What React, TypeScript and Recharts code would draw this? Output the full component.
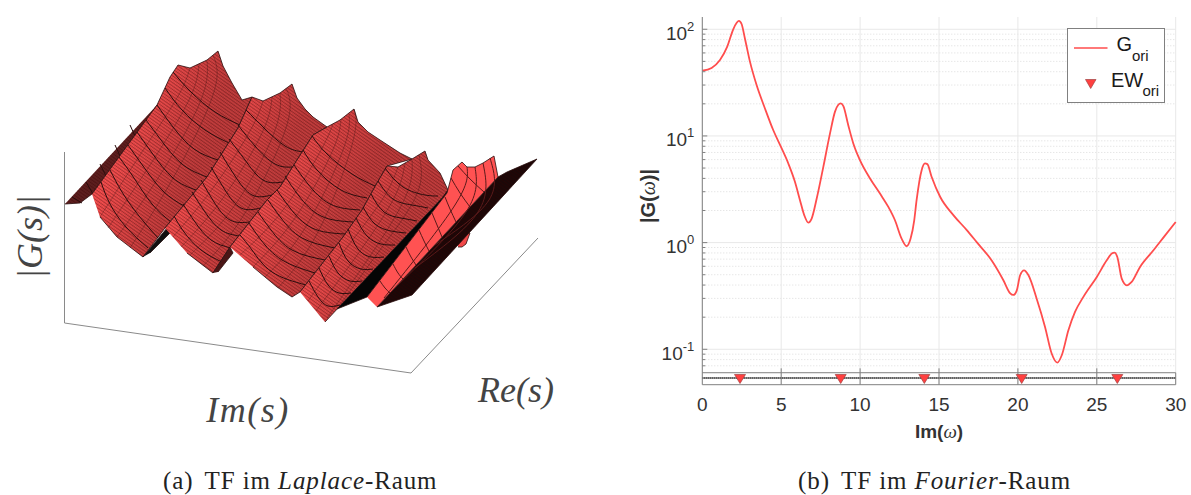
import React from 'react';
import {
  ComposedChart, Line, Scatter, ScatterChart, XAxis, YAxis, CartesianGrid, ReferenceLine,
} from 'recharts';

// right plot: |G(w)| over Im(w)
const omega = [0, 0.59, 1.12, 1.58, 1.96, 2.18, 2.32, 2.49, 2.7, 3.02, 3.44, 3.97, 4.5, 5, 5.45, 5.87, 6.19, 6.46, 6.72, 6.93, 7.25, 7.67, 8.09, 8.41, 8.62, 8.77, 8.94, 9.25, 9.57, 9.99, 10.63, 11.26, 11.79, 12.21, 12.63, 12.95, 13.2, 13.43, 13.58, 13.9, 14.11, 14.26, 14.53, 15.07, 15.91, 16.76, 17.39, 18.34, 19.08, 19.5, 19.71, 19.93, 20.14, 20.39, 20.67, 21.19, 21.72, 22.14, 22.5, 22.78, 23.2, 23.62, 24.15, 25, 25.63, 25.95, 26.12, 26.3, 26.58, 26.9, 27.21, 27.74, 28.59, 29.33, 30];
const magnitude = [40.9, 43.4, 51.5, 68.7, 100, 115, 120, 112, 82, 49.7, 30, 18.1, 11.3, 7.8, 5.52, 3.72, 2.5, 1.81, 1.54, 1.68, 2.59, 5.13, 10.5, 16.9, 19.6, 20.2, 19, 12.6, 8.5, 5.93, 3.99, 2.88, 2.16, 1.62, 1.09, 0.925, 1.09, 1.62, 2.5, 4.78, 5.52, 5.44, 4.14, 2.69, 1.81, 1.31, 1.01, 0.68, 0.444, 0.337, 0.323, 0.357, 0.494, 0.55, 0.494, 0.298, 0.162, 0.0912, 0.075, 0.088, 0.151, 0.224, 0.31, 0.477, 0.682, 0.789, 0.805, 0.734, 0.459, 0.398, 0.428, 0.592, 0.847, 1.17, 1.56];
const eigenOmega = [2.39, 8.77, 14.07, 20.24, 26.3];
const stripLevel = 0.0538;
const stripTop = 0.0603;
const stripBottom = 0.04656;
const tickTop = 0.0663;
const xTicks = [0, 5, 10, 15, 20, 25, 30];
const yMajor = [0.1, 1, 10, 100];
const yMinor = [0.07, 0.08, 0.09, 0.2, 0.3, 0.4, 0.5, 0.6, 0.7, 0.8, 0.9, 2, 3, 4, 5, 6, 7, 8, 9, 20, 30, 40, 50, 60, 70, 80, 90];
const yExponent: Record<number, string> = { 0.1: '-1', 1: '0', 10: '1', 100: '2' };

const curve = omega.map((w, i) => ({ w, g: magnitude[i] }));
const eigenPoints = eigenOmega.map((w) => ({ w, g: stripLevel }));

// left plot: projected surface, outlines
type P = [number, number];
const boxLine: P[] = [[64.5, 152], [64.5, 323], [411, 373], [538, 238]];

const backA: P[] = [[65, 204], [80, 203], [92, 194], [158, 104]];
const faceA: P[] = [[92, 194], [157, 105], [170, 77], [178, 65], [190, 68], [207, 60], [218, 51], [223, 66], [232, 83], [242, 100], [252, 97], [238, 128], [207, 177], [165, 228], [143, 257], [117, 237], [100, 217]];
const shadowA: P[] = [[143, 257], [167, 228], [170, 233], [150, 253]];
const faceB: P[] = [[165, 228], [207, 177], [238, 128], [252, 97], [263, 101], [280, 93], [292, 84], [297, 98], [305, 109], [313, 117], [327, 127], [313, 135], [297, 160], [280, 187], [267, 200], [230, 247], [213, 273], [187, 253]];
const shadowB: P[] = [[213, 273], [230, 247], [233, 253], [218, 272]];
const faceC: P[] = [[230, 247], [267, 200], [280, 187], [297, 160], [313, 135], [327, 127], [340, 120], [354, 109], [358, 122], [368, 132], [380, 140], [400, 153], [412, 159], [387, 166], [377, 183], [362, 210], [343, 237], [300, 292], [292, 297], [277, 287], [253, 267]];
const faceD: P[] = [[300, 292], [343, 237], [362, 210], [377, 183], [387, 166], [398, 167], [412, 159], [425, 151], [428, 160], [440, 173], [448, 190], [443, 197], [340, 306], [325, 322]];
const blackBand: P[] = [[443, 197], [448, 190], [447, 193], [367, 297], [337, 309]];
const flapE: P[] = [[458, 247], [462, 247], [466, 244], [470, 233], [458, 232]];
const backE: P[] = [[377, 307], [412, 295], [537, 159], [507, 172], [498, 177]];
const faceE: P[] = [[367, 297], [447, 193], [453, 170], [462, 162], [467, 167], [475, 167], [483, 163], [494, 156], [498, 177], [377, 307]];

const meshA: P[][] = [
  [[101, 182], [110, 204], [126, 227], [148, 248]],
  [[110, 170], [122, 192], [139, 216], [158, 238]],
  [[119, 157], [134, 178], [152, 204], [171, 222]],
  [[128, 145], [143, 166], [163, 191], [184, 206]],
  [[137, 132], [152, 153], [173, 178], [196, 190]],
  [[146, 120], [161, 140], [182, 164], [207, 177]],
  [[157, 105], [173, 127], [194, 149], [218, 160]],
  [[165, 88], [182, 110], [205, 130], [229, 143]],
  [[173, 72], [191, 92], [215, 112], [240, 125]],
];
const meshB: P[][] = [
  [[174, 216], [184, 232], [201, 250], [222, 262]],
  [[183, 204], [195, 222], [211, 240], [231, 248]],
  [[192, 192], [205, 212], [221, 230], [240, 236]],
  [[201, 180], [214, 202], [230, 220], [250, 222]],
  [[211, 167], [225, 190], [241, 208], [261, 208]],
  [[220, 152], [235, 176], [252, 195], [272, 195]],
  [[229, 139], [245, 160], [263, 180], [283, 182]],
  [[238, 125], [255, 146], [275, 164], [293, 167]],
  [[246, 110], [264, 128], [285, 146], [303, 152]],
];
const meshC: P[][] = [
  [[240, 235], [252, 250], [272, 272], [306, 285]],
  [[249, 223], [261, 240], [282, 260], [315, 273]],
  [[258, 212], [271, 230], [292, 250], [325, 260]],
  [[268, 200], [281, 218], [302, 238], [335, 248]],
  [[277, 190], [290, 208], [312, 228], [345, 234]],
  [[285, 176], [299, 196], [321, 216], [353, 222]],
  [[294, 165], [308, 184], [330, 204], [360, 210]],
  [[303, 150], [317, 170], [341, 190], [367, 198]],
  [[312, 136], [327, 154], [352, 174], [375, 186]],
];
const meshD: P[][] = [
  [[309, 281], [318, 297], [328, 306], [340, 305]],
  [[319, 268], [328, 285], [339, 293], [351, 293]],
  [[329, 256], [338, 273], [350, 281], [362, 281]],
  [[339, 243], [348, 261], [361, 269], [373, 269]],
  [[348, 229], [358, 249], [371, 257], [384, 257]],
  [[356, 218], [367, 236], [381, 244], [395, 245]],
  [[363, 207], [375, 224], [391, 231], [406, 233]],
  [[371, 194], [384, 212], [401, 218], [417, 221]],
  [[378, 181], [393, 199], [412, 205], [428, 208]],
  [[385, 168], [403, 187], [425, 195], [438, 196]],
];
const meshE: P[][] = [
  [[380, 281], [385, 288], [390, 293]],
  [[393, 264], [398, 273], [403, 279]],
  [[406, 247], [411, 257], [416, 265]],
  [[419, 230], [424, 241], [429, 251]],
  [[432, 213], [437, 225], [442, 237]],
  [[445, 197], [450, 209], [456, 222]],
  [[451, 178], [460, 193], [470, 207]],
  [[458, 166], [470, 179], [484, 192]],
  [[467, 167], [455, 205], [384, 298]],
  [[475, 167], [466, 212], [398, 285]],
  [[483, 163], [478, 212], [415, 268]],
  [[490, 158], [489, 200], [435, 245]],
];
// faint lines running with the ridges
const ribsA: P[][] = [
  [[190, 68], [177, 98], [140, 155], [100, 217]],
  [[199, 64], [189, 100], [150, 165], [108, 228]],
  [[207, 60], [201, 100], [162, 172], [117, 237]],
  [[213, 55], [213, 95], [172, 180], [130, 248]],
];
const ribsB: P[][] = [
  [[263, 101], [250, 131], [213, 188], [173, 237]],
  [[272, 97], [262, 133], [223, 198], [181, 247]],
  [[280, 93], [274, 133], [235, 205], [190, 255]],
  [[286, 88], [286, 128], [245, 213], [203, 266]],
];
const ribsC: P[][] = [
  [[333, 124], [320, 152], [283, 210], [240, 255]],
  [[341, 119], [332, 152], [295, 218], [253, 267]],
  [[349, 114], [343, 150], [305, 228], [265, 277]],
  [[354, 109], [352, 145], [318, 232], [278, 288]],
];
const ribsD: P[][] = [
  [[398, 167], [382, 200], [345, 250], [308, 301]],
  [[405, 163], [393, 200], [355, 258], [316, 311]],
  [[412, 159], [405, 198], [366, 262], [327, 318]],
  [[419, 155], [417, 194], [380, 250], [340, 305]],
];
const meshBack: P[][] = [
  [[72, 197], [82, 203]], [[86, 182], [93, 194]], [[100, 164], [106, 176]], [[115, 145], [120, 156]], [[130, 125], [135, 136]],
];

const pts = (list: P[]) => list.map(([x, y]) => ({ x, y }));
const noDot = () => <g />;

const polygon = (key: string, list: P[], fill: string, hatch = true) => [
  <Scatter key={key} data={pts(list)} dataKey="y" shape={noDot} isAnimationActive={false}
    line={{ fill, stroke: '#2a1010', strokeWidth: 0.8 }} />,
  hatch ? (
    <Scatter key={key + 'h'} data={pts(list)} dataKey="y" shape={noDot} isAnimationActive={false}
      line={{ fill: 'url(#hatch)', stroke: 'none' }} />
  ) : null,
];

const mesh = (key: string, lines: P[][], stroke = '#2b0d0d', opacity = 1) =>
  lines.map((l, i) => (
    <Scatter key={key + i} data={pts(l)} dataKey="y" shape={noDot} isAnimationActive={false}
      lineJointType="natural" line={{ stroke, strokeWidth: 1, fill: 'none', strokeOpacity: opacity }} />
  ));

const serifMath = '"Liberation Serif", "DejaVu Serif", serif';
const sans = '"Liberation Sans", Arial, sans-serif';

const SurfacePlot = () => (
  <ScatterChart width={600} height={495} margin={{ top: 0, right: 0, bottom: 0, left: 0 }}>
    <defs>
      <pattern id="hatch" width="2.8" height="1.7" patternUnits="userSpaceOnUse" patternTransform="rotate(-55)">
        <path d="M0 0H2.8" stroke="#300" strokeWidth="0.5" strokeOpacity="0.35" />
        <path d="M0 0V1.7" stroke="#300" strokeWidth="1" strokeOpacity="0.6" />
      </pattern>
      <linearGradient id="shade" x1="0.1" y1="0" x2="0.75" y2="0.35">
        <stop offset="0%" stopColor="#ff5a5a" />
        <stop offset="40%" stopColor="#f85050" />
        <stop offset="75%" stopColor="#d84444" />
        <stop offset="100%" stopColor="#c43e3e" />
      </linearGradient>
    </defs>
    <XAxis type="number" dataKey="x" domain={[0, 600]} hide />
    <YAxis type="number" dataKey="y" domain={[0, 495]} reversed hide width={0} />
    <Scatter data={pts(boxLine)} dataKey="y" shape={noDot} isAnimationActive={false} line={{ stroke: '#8a8a8a', strokeWidth: 1, fill: 'none' }} />
    {polygon('backA', backA, '#5e2020')}
    {mesh('backm', meshBack)}
    {polygon('faceA', faceA, 'url(#shade)')}
    {mesh('rA', ribsA, '#2b0d0d', 0.3)}
    {mesh('mA', meshA)}
    {polygon('shadowA', shadowA, '#111', false)}
    {polygon('faceB', faceB, 'url(#shade)')}
    {mesh('rB', ribsB, '#2b0d0d', 0.3)}
    {mesh('mB', meshB)}
    {polygon('shadowB', shadowB, '#4a1616', false)}
    {polygon('faceC', faceC, 'url(#shade)')}
    {mesh('rC', ribsC, '#2b0d0d', 0.3)}
    {mesh('mC', meshC)}
    {polygon('faceD', faceD, 'url(#shade)')}
    {mesh('rD', ribsD, '#2b0d0d', 0.3)}
    {mesh('mD', meshD)}
    {polygon('band', blackBand, '#050505', false)}
    {polygon('flap', flapE, '#f04848', false)}
    {polygon('backE', backE, '#1a0808')}
    {polygon('faceE', faceE, '#ff5252', false)}
    {mesh('mE', meshE, '#5a1a1a')}
    <text x={30} y={237} transform="rotate(-90 30 237)" textAnchor="middle" dominantBaseline="central" fontFamily={serifMath} fontStyle="italic" fontSize={36} fill="#444">|G(s)|</text>
    <text x={248} y={422} textAnchor="middle" fontFamily={serifMath} fontStyle="italic" fontSize={36} letterSpacing={1.5} fill="#444">Im(s)</text>
    <text x={516} y={402} textAnchor="middle" fontFamily={serifMath} fontStyle="italic" fontSize={36} fill="#444">Re(s)</text>
  </ScatterChart>
);

const Triangle = (props: any) => {
  const { cx, cy } = props;
  return <path d={`M${cx - 5.5} ${cy - 3.5}H${cx + 5.5}L${cx} ${cy + 5.5}Z`} fill="#ff4040" stroke="#a04040" strokeWidth={0.7} />;
};

const YTick = (props: any) => {
  const { x, y, payload } = props;
  const major = yExponent[payload.value] !== undefined;
  return (
    <g>
      <line x1={x} x2={x + (major ? 5 : 3)} y1={y} y2={y} stroke="#808080" />
      {major && (
        <text x={x - 8} y={y + 10.5} textAnchor="end" fontFamily={sans} fontSize={19} fill="#333">
          10<tspan dy={-9} fontSize={13}>{yExponent[payload.value]}</tspan>
        </text>
      )}
    </g>
  );
};

const SpectrumPlot = () => (
  <ComposedChart width={1191} height={495} data={curve} margin={{ top: 17, right: 15.3, bottom: 80.3, left: 640 }}>
    <CartesianGrid horizontalValues={yMinor} vertical={false} stroke="#dcdcdc" strokeDasharray="1 2" />
    <CartesianGrid horizontalValues={yMajor} verticalValues={xTicks} stroke="#e8e8e8" />
    <XAxis type="number" dataKey="w" domain={[0, 30]} ticks={xTicks} interval={0} height={30} tickLine={false} tickSize={0} tickMargin={13}
      stroke="#808080" tick={{ fontFamily: sans, fontSize: 19, fill: '#333' }} />
    <YAxis scale="log" type="number" domain={[stripBottom, 130.3]} allowDataOverflow ticks={[...yMajor, ...yMinor]} interval={0} width={62.3}
      tickLine={false} tickSize={0} tickMargin={0} stroke="#808080" tick={<YTick />} />
    <ReferenceLine y={stripTop} stroke="#808080" />
    <ReferenceLine y={stripLevel} stroke="#222" strokeWidth={2} strokeDasharray="1.2 0.8" />
    {xTicks.slice(1).map((t) => (
      <ReferenceLine key={t} segment={[{ x: t, y: stripBottom }, { x: t, y: t === 30 ? stripTop : tickTop }]} stroke="#808080" />
    ))}
    <Line dataKey="g" type="monotone" dot={false} stroke="#ff4d4d" strokeWidth={1.8} isAnimationActive={false} />
    <Scatter data={eigenPoints} dataKey="g" shape={<Triangle />} isAnimationActive={false} />
    <g>
      <rect x={1067.5} y={28.5} width={97} height={74} fill="#fff" stroke="#808080" />
      <line x1={1074} x2={1107.5} y1={48} y2={48} stroke="#ff4d4d" strokeWidth={1.6} />
      <path d="M1085.5 79.5H1096L1090.7 88.5Z" fill="#ff4040" stroke="#a04040" strokeWidth={0.7} />
      <text x={1116.5} y={51} fontFamily={sans} fontSize={20} fill="#1a1a1a">G</text>
      <text x={1132} y={61} fontFamily={sans} fontSize={15} fill="#1a1a1a">ori</text>
      <text x={1111} y={87} fontFamily={sans} fontSize={20} fill="#1a1a1a">EW</text>
      <text x={1142.5} y={96} fontFamily={sans} fontSize={15} fill="#1a1a1a">ori</text>
    </g>
    <text x={655} y={196} transform="rotate(-90 655 196)" textAnchor="middle" fontFamily={sans} fontSize={20} fontWeight="bold" fill="#333">
      |G(<tspan fontFamily={serifMath} fontStyle="italic" fontWeight="normal">ω</tspan>)|
    </text>
    <text x={939} y={438} textAnchor="middle" fontFamily={sans} fontSize={19} fontWeight="bold" fill="#333">
      Im(<tspan fontFamily={serifMath} fontStyle="italic" fontWeight="normal">ω</tspan>)
    </text>
  </ComposedChart>
);

const captionStyle: React.CSSProperties = {
  position: 'absolute', top: 466, fontFamily: serifMath, fontSize: 25, letterSpacing: 0.9, color: '#222', whiteSpace: 'pre', lineHeight: '30px',
};

export default function App() {
  return (
    <div style={{ position: 'absolute', left: 0, top: 0, width: 1191, height: 495, overflow: 'hidden', background: '#fff' }}>
      <div style={{ position: 'absolute', left: 0, top: 0 }}><SpectrumPlot /></div>
      <div style={{ position: 'absolute', left: 0, top: 0 }}><SurfacePlot /></div>
      <div style={{ ...captionStyle, left: 163 }}>(a) <span style={{ marginLeft: 4 }}>TF im <i>Laplace</i>-Raum</span></div>
      <div style={{ ...captionStyle, left: 798 }}>(b) <span style={{ marginLeft: 4 }}>TF im <i>Fourier</i>-Raum</span></div>
    </div>
  );
}
